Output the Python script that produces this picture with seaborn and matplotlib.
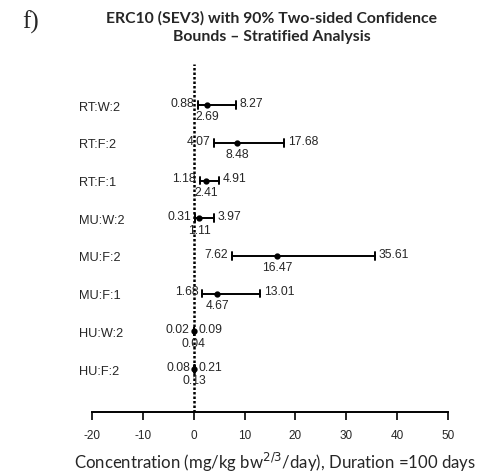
import numpy as np
import pandas as pd
import matplotlib
matplotlib.use("Agg")
import matplotlib.pyplot as plt
import seaborn as sns

categories = ["RT:W:2", "RT:F:2", "RT:F:1", "MU:W:2", "MU:F:2", "MU:F:1", "HU:W:2", "HU:F:2"]
lower = [0.88, 4.07, 1.18, 0.31, 7.62, 1.68, 0.02, 0.08]
point = [2.69, 8.48, 2.41, 1.11, 16.47, 4.67, 0.04, 0.13]
upper = [8.27, 17.68, 4.91, 3.97, 35.61, 13.01, 0.09, 0.21]
xticks = [-20, -10, 0, 10, 20, 30, 40, 50]

rows = []
for c, lo, pt, hi in zip(categories, lower, point, upper):
    for v in (lo, pt, hi):
        rows.append({"group": c, "value": v})
df = pd.DataFrame(rows)

sns.set_theme(style="white")
plt.rcParams["font.family"] = ["Liberation Sans", "DejaVu Sans"]

fig = plt.figure(figsize=(4.82, 4.77), dpi=100)
W, H = 482, 477
ax = fig.add_axes([92 / W, 1 - 413 / H, (448 - 92) / W, (413 - 65) / H])

ax.axvline(0, color="black", linestyle=(0, (1, 0.8)), linewidth=1.8, zorder=1)

sns.pointplot(data=df, x="value", y="group", order=categories,
              estimator="median", errorbar=("pi", 100),
              linestyle="none", color="black", markers="o", markersize=2.5,
              capsize=0.2, err_kws={"linewidth": 1.4}, ax=ax, zorder=3)

ax.set_xlim(-20, 50)
ax.set_ylim(7 + 1.14, -1.09)
ax.set_xticks(xticks)
ax.set_xticklabels([str(t) for t in xticks], fontsize=8.5)
for s in ["top", "right", "left"]:
    ax.spines[s].set_visible(False)
ax.spines["bottom"].set_color("black")
ax.spines["bottom"].set_linewidth(1.4)
ax.tick_params(axis="x", bottom=True, direction="out", length=6, width=1.2,
               color="black", pad=6)
ax.tick_params(axis="y", left=False, length=0, pad=9.4, labelsize=9.2)
for lab in ax.get_yticklabels():
    lab.set_horizontalalignment("left")
ax.set_ylabel("")
ax.set_xlabel("Concentration (mg/kg bw$^{2/3}$/day), Duration =100 days",
              fontsize=12.1, family="Lato")
ax.xaxis.set_label_coords((275 - 92) / 356, -(462 - 413) / 348)
ax.xaxis.label.set_va("center")

px = 70 / (448 - 92)  # data units per pixel
for i, (lo, pt, hi) in enumerate(zip(lower, point, upper)):
    ax.text(lo - 4 * px, i - 0.06, f"{lo:.2f}", ha="right", va="center", fontsize=8.7)
    ax.text(hi + 4 * px, i - 0.06, f"{hi:.2f}", ha="left", va="center", fontsize=8.7)
    ax.text(pt, i + 0.3, f"{pt:.2f}", ha="center", va="center", fontsize=8.7)

fig.text(272 / W, 1 - 18 / H, "ERC10 (SEV3) with 90% Two-sided Confidence",
         ha="center", va="center", fontsize=11.3, fontweight="bold", family="Lato")
fig.text(272 / W, 1 - 37 / H, "Bounds \u2013 Stratified Analysis",
         ha="center", va="center", fontsize=11.3, fontweight="bold", family="Lato")
fig.text(22 / W, 1 - 22 / H, "f)", ha="left", va="center", fontsize=18,
         family="Liberation Serif")

fig.savefig("out.png", dpi=100)
